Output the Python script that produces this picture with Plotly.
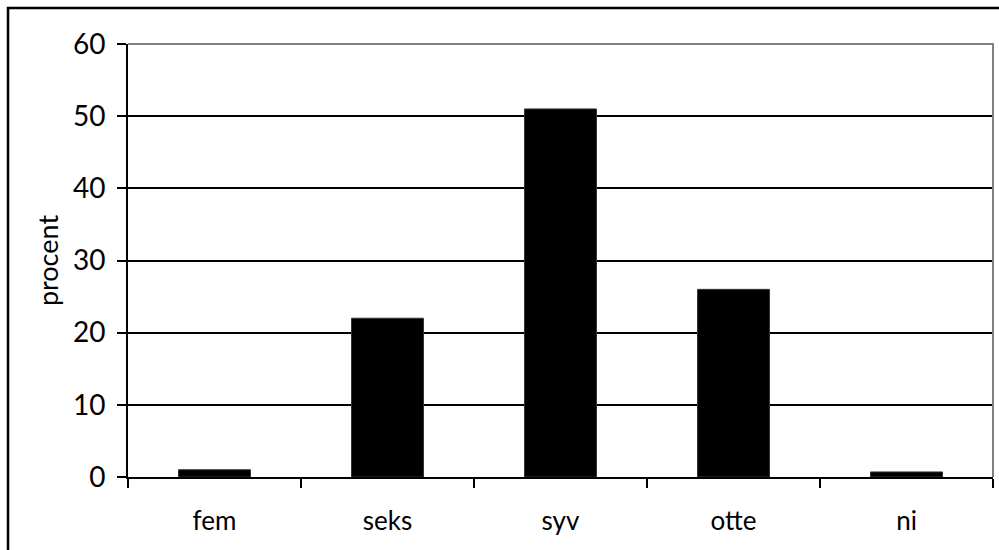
import plotly.graph_objects as go

categories = ["fem", "seks", "syv", "otte", "ni"]
procent = [1.0, 22.0, 51.0, 26.0, 0.7]
y_ticks = [0, 10, 20, 30, 40, 50, 60]

FONT = "Lato, 'Liberation Sans', sans-serif"

fig = go.Figure(
    go.Bar(
        x=categories,
        y=procent,
        marker=dict(color="#000000", line=dict(color="#333333", width=1)),
        hoverinfo="x+y",
    )
)

fig.update_layout(
    width=999,
    height=550,
    margin=dict(l=128, r=6, t=44, b=73),
    paper_bgcolor="white",
    plot_bgcolor="white",
    bargap=0.584,
    showlegend=False,
    font=dict(family=FONT, size=26, color="#000000"),
    xaxis=dict(
        type="category",
        tickson="boundaries",
        ticks="outside",
        ticklen=9,
        tickwidth=1.5,
        tickcolor="#000000",
        showline=True,
        linecolor="#000000",
        linewidth=2,
        showgrid=False,
        tickfont=dict(size=26),
        ticklabelstandoff=20,
    ),
    yaxis=dict(
        range=[0, 60],
        tickvals=y_ticks,
        ticks="outside",
        ticklen=9,
        tickwidth=1.5,
        tickcolor="#000000",
        showline=True,
        linecolor="#000000",
        linewidth=2,
        showgrid=True,
        gridcolor="#000000",
        gridwidth=1.5,
        zeroline=False,
        tickfont=dict(size=28),
        ticklabelstandoff=6,
        title=dict(text="procent", font=dict(size=27), standoff=6),
    ),
    shapes=[
        # grey frame on the top and right of the plotting area
        dict(
            type="path",
            xref="paper",
            yref="paper",
            path="M 0,1 L 1,1 L 1,0",
            line=dict(color="#808080", width=2),
            layer="above",
        ),
        # outer chart border
        dict(
            type="rect",
            xref="paper",
            yref="paper",
            x0=-0.1387,
            x1=1.2,
            y0=-0.3,
            y1=1.0831,
            line=dict(color="#000000", width=2.5),
            layer="below",
        ),
    ],
)

fig.write_html("out.html")
